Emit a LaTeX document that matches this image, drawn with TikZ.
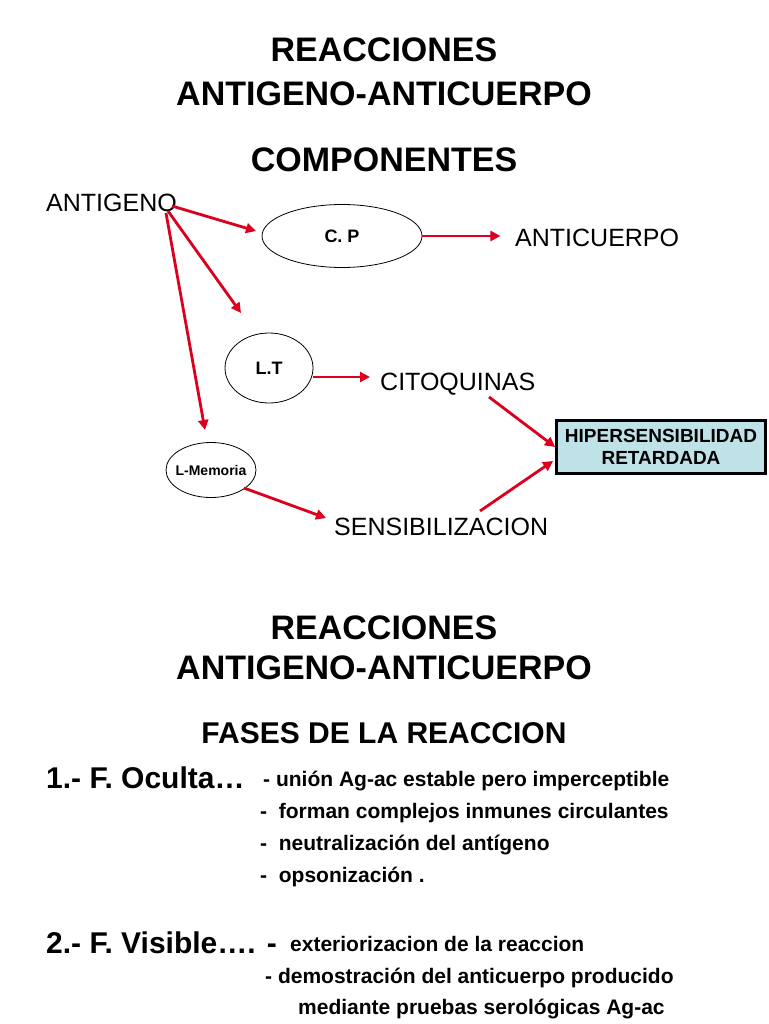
\documentclass[tikz,border=0pt]{standalone}
\usepackage{fontspec}
\setmainfont{Liberation Sans}
\usetikzlibrary{arrows.meta,shapes.geometric}
\definecolor{arrred}{RGB}{218,0,30}
\definecolor{boxblue}{RGB}{190,226,232}
\begin{document}
\begin{tikzpicture}[x=1pt,y=-1pt,
  title/.style={font=\fontsize{34}{40}\selectfont\bfseries, align=center, inner sep=0pt},
  lbl/.style={font=\fontsize{25}{30}\selectfont, inner sep=0pt},
  cell/.style={draw=black, line width=0.8pt, ellipse, inner sep=0pt},
  rarr/.style={draw=arrred, line width=2.8pt, -{Triangle[length=10pt,width=10pt]}},
  big/.style={font=\fontsize{30}{34}\selectfont\bfseries, inner sep=0pt, anchor=base west},
  small/.style={font=\fontsize{21}{25}\selectfont\bfseries, inner sep=0pt, anchor=base west}
]
\useasboundingbox (0,0) rectangle (768,1024);
\fill[white] (0,0) rectangle (768,1024);

\node[title] (t1) at (384,50) {REACCIONES};
\node[title] (t2) at (384,94) {ANTIGENO-ANTICUERPO};
\node[title] (t3) at (384,160) {COMPONENTES};

\node[lbl, anchor=west] (ag) at (46,203) {ANTIGENO};
\node[cell, minimum width=160pt, minimum height=63pt] (cp) at (342,236) {\fontsize{18}{20}\selectfont\bfseries C. P};
\node[lbl, anchor=west] (ac) at (515,238) {ANTICUERPO};
\node[cell, minimum width=88pt, minimum height=70pt] (lt) at (269,368) {\fontsize{18}{20}\selectfont\bfseries L.T};
\node[lbl, anchor=west] (cit) at (380,384) {CITOQUINAS};
\node[cell, inner xsep=-8pt, inner ysep=0pt, minimum width=90pt, minimum height=55pt] (lm) at (211,470) {\fontsize{14}{16}\selectfont\bfseries L-Memoria};
\node[lbl, anchor=west] (sen) at (334,527) {SENSIBILIZACION};
\node[draw=black, line width=2.8pt, fill=boxblue, minimum width=209pt, minimum height=53pt, inner sep=0pt, align=center,
  font=\fontsize{19}{22}\selectfont\bfseries] (hip) at (661,447) {HIPERSENSIBILIDAD\\RETARDADA};

\coordinate (ag1) at (172,206);
\coordinate (ag2) at (168,211);
\coordinate (ag3) at (166,213);
\coordinate (e1) at (256,231);
\coordinate (e2) at (241,313);
\coordinate (e3) at (205,430);
\draw[rarr] (ag1) -- (e1);
\draw[rarr] (ag2) -- (e2);
\draw[rarr] (ag3) -- (e3);
\draw[rarr] (cp.east) -- ++(78,0) coordinate (e4);
\draw[rarr] (lt.east |- 0,377) coordinate (s5) -- (370,377) coordinate (e5);
\coordinate (s6) at (489,397);
\draw[rarr] (s6) -- (hip.west);
\coordinate (s7) at (244,488);
\draw[rarr] (s7) -- (326,518) coordinate (e7);
\coordinate (s8) at (480,511);
\draw[rarr] (s8) -- (553,461) coordinate (e8);

\node[title] (t4) at (384,628) {REACCIONES};
\node[title] (t5) at (384,668) {ANTIGENO-ANTICUERPO};
\node[title, font=\fontsize{30}{36}\selectfont\bfseries] (t6) at (384,733) {FASES DE LA REACCION};

\node[big] (f1) at (46,788) {1.- F. Oculta\ldots};
\node[small] (l1) at (263,786) {- unión Ag-ac estable pero imperceptible};
\node[small] (l2) at (260,818) {-\ \ forman complejos inmunes circulantes};
\node[small] (l3) at (260,850) {-\ \ neutralización del antígeno};
\node[small] (l4) at (260,882) {-\ \ opsonización .};
\node[big] (f2) at (46,953) {2.- F. Visible\ldots. -};
\node[small] (l5) at (290,951) {exteriorizacion de la reaccion};
\node[small] (l6) at (265,983) {- demostración del anticuerpo producido};
\node[small] (l7) at (298,1014) {mediante pruebas serológicas Ag-ac};
\end{tikzpicture}
\end{document}
